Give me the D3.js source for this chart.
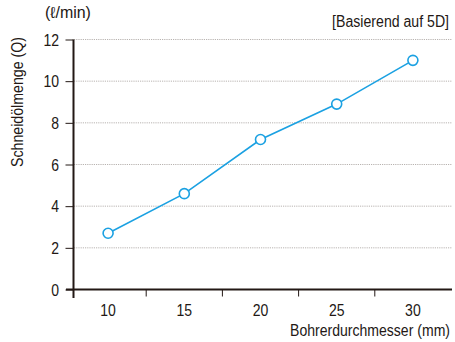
<!DOCTYPE html>
<html>
<head>
<meta charset="utf-8">
<script src="https://cdn.jsdelivr.net/npm/d3@7"></script>
<style>
  html, body { margin: 0; padding: 0; background: #fff; }
  svg { display: block; }
  text { font-family: "Liberation Sans", Arial, sans-serif; fill: #231815; }
</style>
</head>
<body>
<svg id="chart" width="455" height="342"></svg>
<script>
const categories = ["10", "15", "20", "25", "30"];
const values = [2.7, 4.6, 7.2, 8.9, 11.0];
const yTicks = [0, 2, 4, 6, 8, 10, 12];
const unitLabel = "(ℓ/min)";
const noteLabel = "[Basierend auf 5D]";
const yTitle = "Schneidölmenge (Q)";
const xTitle = "Bohrerdurchmesser (mm)";

const svg = d3.select("#chart");
const axisColor = "#231815";
const lineColor = "#1ba1e2";

const x = d3.scaleBand().domain(categories).range([70, 451]).padding(0);
const y = d3.scaleLinear().domain([0, 12]).range([289.5, 39.5]);

// condensed text: scale horizontally so the text spans the wanted length
function ctext(g, tx, ty, str, size, anchor, len, rot) {
  const t = g.append("text")
    .attr("text-anchor", anchor || "start")
    .attr("font-size", size)
    .text(str);
  const natural = t.node().getComputedTextLength() || len;
  const sx = len ? Math.min(1, len / natural) : 1;
  t.attr("transform", `translate(${tx},${ty})` + (rot ? ` rotate(${rot})` : "") + ` scale(${sx},1)`);
  return t;
}

// gridlines
svg.append("g").selectAll("line")
  .data(yTicks.filter(d => d > 0))
  .join("line")
  .attr("x1", 74).attr("x2", 452)
  .attr("y1", d => y(d)).attr("y2", d => y(d))
  .attr("stroke", "#b8b3b0").attr("stroke-width", 1)
  .attr("stroke-dasharray", "1.2,1");

// y axis
const yAxis = svg.append("g").attr("transform", "translate(73.5,0)")
  .call(d3.axisLeft(y).tickValues(yTicks).tickSize(8).tickFormat(""));
yAxis.select(".domain").remove();
yAxis.selectAll(".tick line").attr("stroke", axisColor).attr("stroke-width", 1);
const yl = svg.append("g");
yTicks.forEach(t => ctext(yl, 59, y(t) + 6, String(t), 16.5, "end", String(t).length * 7.8));
svg.append("line").attr("x1", 73.5).attr("x2", 73.5).attr("y1", y(12)).attr("y2", 298)
  .attr("stroke", axisColor).attr("stroke-width", 2);

// x axis
svg.append("line").attr("x1", 66).attr("x2", 452).attr("y1", y(0)).attr("y2", y(0))
  .attr("stroke", axisColor).attr("stroke-width", 2);
svg.append("g").selectAll("line")
  .data(categories.slice(1))
  .join("line")
  .attr("x1", d => x(d)).attr("x2", d => x(d))
  .attr("y1", y(0)).attr("y2", y(0) + 7)
  .attr("stroke", axisColor).attr("stroke-width", 1);
const xl = svg.append("g");
categories.forEach(c => ctext(xl, x(c) + x.bandwidth() / 2, 315.5, c, 16.5, "middle", c.length * 7.8));

// line + points
const line = d3.line()
  .x((d, i) => x(categories[i]) + x.bandwidth() / 2)
  .y(d => y(d));
svg.append("path").datum(values)
  .attr("d", line)
  .attr("fill", "none").attr("stroke", lineColor).attr("stroke-width", 1.6);
svg.append("g").selectAll("circle")
  .data(values)
  .join("circle")
  .attr("cx", (d, i) => x(categories[i]) + x.bandwidth() / 2)
  .attr("cy", d => y(d))
  .attr("r", 5)
  .attr("fill", "#fff").attr("stroke", lineColor).attr("stroke-width", 1.6);

// titles
ctext(svg, 45, 18, unitLabel, 16, "start", 46);
ctext(svg, 449, 27, noteLabel, 16, "end", 117);
ctext(svg, 23, 102, yTitle, 16, "middle", 130, -90);
ctext(svg, 450, 336, xTitle, 16, "end", 160);
</script>
</body>
</html>
